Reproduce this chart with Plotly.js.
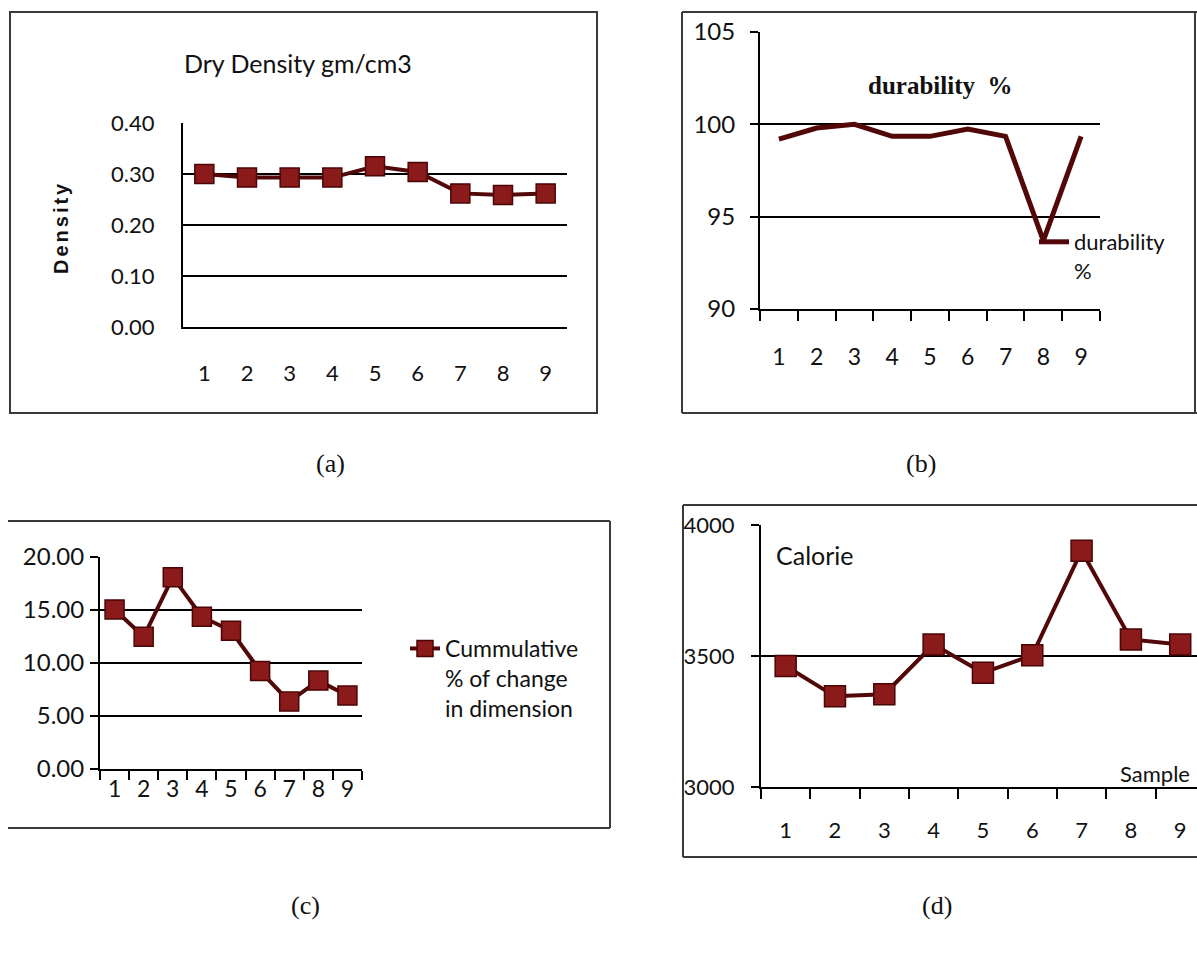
<!DOCTYPE html>
<html>
<head>
<meta charset="utf-8">
<script src="https://cdn.plot.ly/plotly-3.0.1.min.js"></script>
<style>
  html, body { margin: 0; padding: 0; background: #fff; overflow: hidden; }
  #chart { width: 1197px; height: 964px; }
</style>
</head>
<body>
<div id="chart"></div>
<script>
// ---- data ----
const samples = ['1', '2', '3', '4', '5', '6', '7', '8', '9'];
const dryDensity = [0.300, 0.293, 0.293, 0.293, 0.315, 0.304, 0.262, 0.259, 0.262];
const durability = [99.2, 99.8, 100.0, 99.35, 99.35, 99.75, 99.35, 93.7, 99.35];
const cumulativeChange = [15.05, 12.48, 18.1, 14.36, 13.04, 9.25, 6.36, 8.34, 6.93];
const calorie = [3462, 3346, 3354, 3544, 3436, 3503, 3902, 3563, 3544];

// ---- layout helpers (pixel -> paper) ----
const W = 1197, H = 964;
const px = x => x / W;
const py = y => 1 - y / H;

const LINE = '#520808';
const MARK = '#8b1a1a';
const SANS = 'Lato, "Open Sans", sans-serif';
const SERIF = '"Liberation Serif", "DejaVu Serif", serif';
const INK = '#111111';

const marker = { symbol: 'square', size: 19, color: MARK, line: { color: '#4a0505', width: 1.5 } };

const traces = [
  { x: samples, y: dryDensity, xaxis: 'x', yaxis: 'y', type: 'scatter', mode: 'lines+markers',
    name: 'Dry Density gm/cm3', showlegend: false, line: { color: LINE, width: 4 }, marker: marker },
  { x: samples, y: durability, xaxis: 'x2', yaxis: 'y2', type: 'scatter', mode: 'lines',
    name: 'durability<br>%', legend: 'legend', line: { color: LINE, width: 5 } },
  { x: samples, y: cumulativeChange, xaxis: 'x3', yaxis: 'y3', type: 'scatter', mode: 'lines+markers',
    name: 'Cummulative<br>% of change<br>in dimension', legend: 'legend2', line: { color: LINE, width: 4 }, marker: marker },
  { x: samples, y: calorie, xaxis: 'x4', yaxis: 'y4', type: 'scatter', mode: 'lines+markers',
    name: 'Calorie', showlegend: false, line: { color: LINE, width: 4 }, marker: Object.assign({}, marker, { size: 21 }) }
];

const tickFont = { family: SANS, size: 22, color: INK };

function xAxis(l, r, anchor, opts) {
  return Object.assign({
    domain: [px(l), px(r)], anchor: anchor, type: 'category', range: [-0.5, 8.5],
    showgrid: false, zeroline: false, showline: true, linecolor: '#000', linewidth: 2,
    ticks: 'outside', tickson: 'boundaries', ticklen: 10, tickwidth: 2, tickcolor: '#000',
    tickfont: tickFont, fixedrange: true
  }, opts || {});
}
function yAxis(top, bottom, anchor, range, dtick, fmt, opts) {
  return Object.assign({
    domain: [py(bottom), py(top)], anchor: anchor, range: range, dtick: dtick, tick0: range[0],
    tickformat: fmt, showgrid: true, gridcolor: '#000', gridwidth: 2, zeroline: false,
    showline: true, linecolor: '#000', linewidth: 2,
    ticks: 'outside', ticklen: 8, tickwidth: 2, tickcolor: '#000',
    tickfont: tickFont, fixedrange: true
  }, opts || {});
}

const frameLine = { color: '#3a3a3a', width: 2 };
function seg(x0, y0, x1, y1) {
  return { type: 'line', xref: 'paper', yref: 'paper', x0: px(x0), y0: py(y0), x1: px(x1), y1: py(y1), line: frameLine };
}
function note(text, x, y, font, extra) {
  return Object.assign({ text: text, xref: 'paper', yref: 'paper', x: px(x), y: py(y),
    xanchor: 'center', yanchor: 'middle', showarrow: false, font: font }, extra || {});
}

const layout = {
  width: W, height: H, margin: { l: 0, r: 0, t: 0, b: 0 },
  paper_bgcolor: '#fff', plot_bgcolor: 'rgba(0,0,0,0)',
  font: { family: SANS, color: INK },
  // (a)
  xaxis: xAxis(183, 567, 'y', { ticks: '', ticklabelstandoff: 26 }),
  yaxis: yAxis(123, 327, 'x', [0, 0.4], 0.1, '.2f', { ticks: '', ticklabelstandoff: 22 }),
  // (b)
  xaxis2: xAxis(760, 1100, 'y2', { ticklabelstandoff: 26, tickfont: { family: SANS, size: 23, color: INK } }),
  yaxis2: yAxis(32, 309, 'x2', [90, 105], 5, 'd', { ticklabelstandoff: 10, tickfont: { family: SANS, size: 24, color: INK } }),
  // (c)
  xaxis3: xAxis(100, 362, 'y3', { ticklen: 9, ticklabelstandoff: -2, tickfont: { family: SANS, size: 23, color: INK } }),
  yaxis3: yAxis(557, 769, 'x3', [0, 20], 5, '.2f', { ticklabelstandoff: 1, tickfont: { family: SANS, size: 24, color: INK } }),
  // (d)
  xaxis4: xAxis(761, 1197, 'y4', { range: [-0.5, 8.34], ticklabelstandoff: 23 }),
  yaxis4: yAxis(525, 787, 'x4', [3000, 4000], 500, 'd', { ticklabelstandoff: 12 }),
  legend: {
    x: px(1034), y: py(221), xanchor: 'left', yanchor: 'top', valign: 'top',
    bgcolor: 'rgba(0,0,0,0)', font: { family: SANS, size: 22, color: INK }, itemwidth: 30
  },
  legend2: {
    x: px(405), y: py(627), xanchor: 'left', yanchor: 'top', valign: 'top',
    bgcolor: 'rgba(0,0,0,0)', font: { family: SANS, size: 23, color: INK }, itemwidth: 30
  },
  shapes: [
    // frame (a)
    { type: 'rect', xref: 'paper', yref: 'paper', x0: px(10), x1: px(597), y0: py(413), y1: py(12), line: frameLine },
    // frame (b)
    seg(682, 12, 1197, 12), seg(682, 12, 682, 413), seg(682, 413, 1197, 413), seg(1195, 12, 1195, 413),
    // frame (c)
    seg(8, 521, 610, 521), seg(610, 521, 610, 828), seg(8, 828, 610, 828),
    // frame (d)
    seg(683, 505, 1197, 505), seg(683, 505, 683, 857), seg(683, 857, 1197, 857)
  ],
  annotations: [
    note('Dry Density gm/cm3', 298, 63, { family: SANS, size: 25, color: INK }),
    note('<span style="letter-spacing:3px"><b>Density</b></span>', 61, 228,
      { family: '"Liberation Sans", Arial, sans-serif', size: 20, color: INK }, { textangle: -90 }),
    note('<b>durability  %</b>', 940, 85, { family: SERIF, size: 25, color: INK }),
    note('Calorie', 774, 555, { family: SANS, size: 25, color: INK }, { xanchor: 'left' }),
    note('Sample', 1192, 789, { family: SANS, size: 22, color: INK }, { xanchor: 'right', yanchor: 'bottom' }),
    note('(a)', 330, 463, { family: SERIF, size: 26, color: INK }),
    note('(b)', 921, 463, { family: SERIF, size: 26, color: INK }),
    note('(c)', 305, 905, { family: SERIF, size: 26, color: INK }),
    note('(d)', 937, 905, { family: SERIF, size: 26, color: INK })
  ]
};

Plotly.newPlot('chart', traces, layout, { staticPlot: true, displayModeBar: false });
</script>
</body>
</html>
